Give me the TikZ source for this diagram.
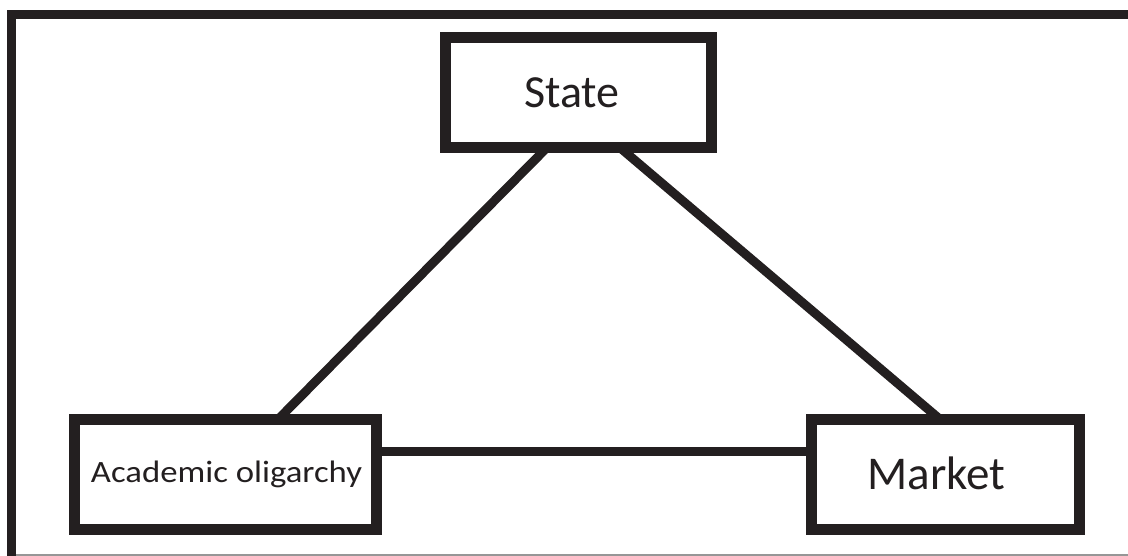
\documentclass[tikz,border=0pt]{standalone}
\usepackage{fontspec}
\setmainfont{Carlito}
\definecolor{ink}{RGB}{35,31,32}
\definecolor{edge}{RGB}{150,150,150}
\pgfdeclarelayer{links}
\pgfsetlayers{links,main}
\begin{document}
\begin{tikzpicture}[x=1pt,y=-1pt,
  box/.style={draw=ink,line width=11pt,fill=white,inner sep=0pt,text=ink},
  link/.style={draw=ink,line width=9pt}]
\useasboundingbox (0,0) rectangle (1128,556);
% outer frame: heavy left and top rules, thin rule along the bottom
\draw[ink,line width=9pt] (11.5,556) -- (11.5,14.5) -- (1128,14.5);
\draw[edge,line width=2pt] (16,554.5) -- (1128,554.5);
% boxes
\node[box,minimum width=266pt,minimum height=109.5pt,font=\fontsize{46}{50}\selectfont] (State) at (578.5,92.75) {\raisebox{-4pt}{State}\kern13pt};
\node[box,minimum width=302pt,minimum height=110pt,font=\fontsize{31}{35}\selectfont] (Acad) at (225.5,474.5) {\scalebox{1.12}[1]{Academic oligarchy}\kern-2pt};
\node[box,minimum width=268pt,minimum height=110pt,font=\fontsize{47}{51}\selectfont] (Market) at (945.5,474.5) {\raisebox{3pt}{Market}\kern18pt};
% connectors between the three boxes, ends tucked under the box borders
\begin{pgfonlayer}{links}
\draw[link] ([xshift=-27pt,yshift=10pt]State.south) -- ([xshift=48pt,yshift=-10pt]Acad.north);
\draw[link] ([xshift=36pt,yshift=10pt]State.south) -- ([xshift=0pt,yshift=-10pt]Market.north);
\draw[link] ([xshift=-8pt,yshift=23.5pt]Acad.east) -- ([xshift=8pt,yshift=23.5pt]Market.west);
\end{pgfonlayer}
\end{tikzpicture}
\end{document}
